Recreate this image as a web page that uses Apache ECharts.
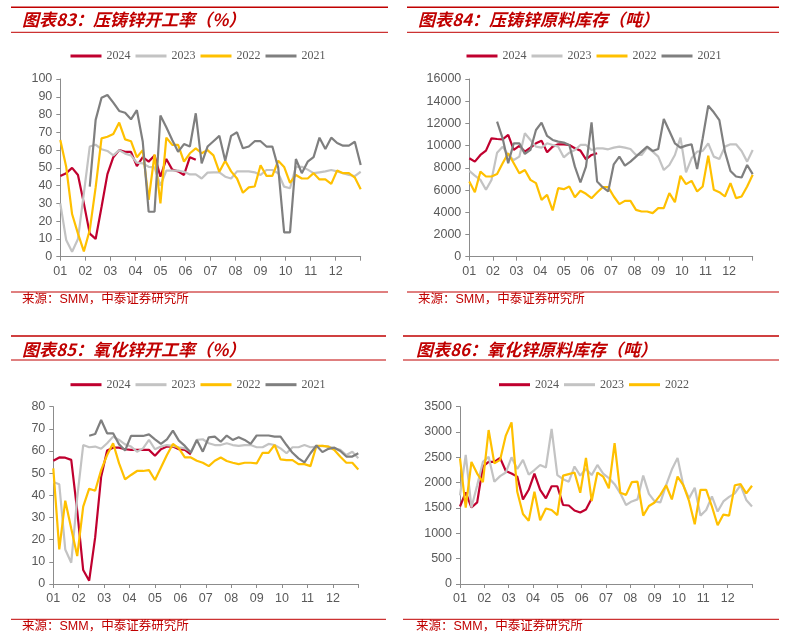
<!DOCTYPE html>
<html>
<head>
<meta charset="utf-8">
<script src="https://cdn.jsdelivr.net/npm/echarts@6/dist/echarts.min.js"></script>
<style>
body{margin:0;background:#fff;}
#wrap{position:relative;width:792px;height:636px;}
.p{position:absolute;width:396px;height:318px;}
</style>
</head>
<body>
<div id="wrap">
<div class="p" id="c1" style="left:0;top:0"></div>
<div class="p" id="c2" style="left:396px;top:0"></div>
<div class="p" id="c3" style="left:0;top:318px"></div>
<div class="p" id="c4" style="left:396px;top:318px"></div>
</div>
<script>
// month tick labels and legend names
var monthLabels = ['01','02','03','04','05','06','07','08','09','10','11','12'];
var years = ['2024','2023','2022','2021'];
var yearColors = ['#C0002F','#C3C3C3','#FFC000','#7F7F7F'];

// 压铸锌开工率 (%), weekly
var die2024 = [45.4,47,50,46,30,13,10,28,46.5,56,60,59,59,51,56,53.5,57,45,55,49,48,46,56,54.5];
var die2023 = [30,9.4,2.8,10,35.6,62,63,60.5,59.5,57,60,58,57,52.9,52.5,50.6,50.3,40,48.4,48.4,48.4,47.8,46.3,46.3,44,47.3,47.5,47.5,45,44,48,48,48,47.5,46,48.8,48.8,47,39.4,38.5,50.6,50.6,49,47,47.5,48,48.8,48,47,46,45.4,47.8];
var die2022 = [65.7,50.6,24,13,3,15,39,66.6,67.5,69,75.5,66,65,56,60,32,57.6,30,67,62.9,62.9,53.5,58.2,61,58.2,60,57,47.8,54,48,44,36,39,39.5,51.5,45.5,45.5,54,50.5,41.5,46,44,44,47,43.5,43.5,41,48.5,47,47,44.5,38];
var die2021 = [null,null,null,null,null,39.4,77,89.5,91,86.7,82,81,77.3,82.5,64.7,25.3,25.3,79.4,72.8,65.7,59,63.4,62,80.7,52.5,62,65,68,54,68,70,61,62,65,65,62,62,50,13.7,13.7,55,47,53.5,56,67,60.6,67,64,62.5,62.5,64.7,51.6];

// 压铸锌原料库存 (吨)
var dieStock2024 = [8860,8560,9160,9550,10660,10600,10570,10960,9610,9970,9460,9820,10210,10450,9400,9910,10120,10120,10060,9760,9550,8770,9160,9310];
var dieStock2023 = [7720,7300,6920,6020,6920,9370,9910,9160,8710,9010,11110,10510,9910,9820,10210,10060,9910,8950,9370,9610,10060,10060,9610,9760,9760,9670,9820,9910,9820,9700,9160,9160,9820,9460,9010,7810,8260,9160,10720,7600,8860,9460,9520,10210,9010,8800,9910,10120,10120,9520,8560,9610];
var dieStock2022 = [6770,5810,7660,7220,7220,7450,8410,9310,8410,7510,7810,6920,6620,5120,5570,4160,6170,6080,6320,5360,5930,5660,5270,5780,6260,6260,5420,4730,5030,5030,4220,4070,4070,3920,4370,4370,5720,4910,7280,6530,6830,5870,6320,9100,6020,5810,5420,6620,5270,5420,6320,7370];
var dieStock2021 = [null,null,null,null,null,12160,10660,8410,10210,10210,9250,9610,11410,12070,10870,10510,10360,10270,10060,8110,6680,8110,12100,6770,6260,5870,8320,9010,8200,8560,9010,9460,9910,9520,9700,12400,11320,10210,9820,10000,10120,7900,10660,13590,13000,12300,9460,7720,7220,7130,8260,7430];

// 氧化锌开工率 (%)
var oxide2024 = [55.6,57.1,57,56,33,6.3,1.5,21,48.4,60.2,61.5,61.5,60.8,60.5,60.5,60.5,60.5,57.9,60.8,62,62,60.8,60.5,58.5];
var oxide2023 = [46,45,15.6,9.6,39,62.7,61.7,62,61,63.5,66.5,65,63,62,59.7,61.2,65,60.8,62,62.7,62.3,61.7,61.2,59.7,65,65.3,63.5,62.7,62.7,63.5,62.7,62.3,62.7,62.7,61.7,61.7,63.2,62.7,61.2,59,61.7,61.7,62.7,61.7,62,62.3,62,61.2,60.5,58.2,59.7,56.7];
var oxide2022 = [52.2,15.6,37.6,25,12.6,34.9,43,42.1,51.4,58.2,63.5,54.4,47.2,49.2,51,51,51.4,46.9,52.6,58.2,63.2,61.2,57.1,57.1,55.6,54.7,53.2,55.6,57.1,55.5,54.7,54.1,54.7,54.7,54.4,59.2,59.2,62.7,56.2,55.9,55.9,54.1,54.1,53.2,62.3,62.3,62,60.5,57.4,54.7,54.7,51.7];
var oxide2021 = [null,null,null,null,null,null,66.9,67.7,74,68,68,63,60.2,66.8,66.8,66.8,67.5,65.3,63.2,65.3,69.2,64.7,62.3,59.2,65,59.7,66.2,66.5,64.2,67,65,66.2,65,63.2,67,67,67,66.5,66.5,62.7,59.2,56.7,54.9,59,62.5,59.5,61,61.5,60,57.5,57.5,59];

// 氧化锌原料库存 (吨)
var oxideStock2024 = [1530,1810,1510,1610,2320,2410,2410,2490,2230,2180,2120,1670,1860,2180,1860,1690,1930,1930,1560,1550,1450,1410,1470,1690];
var oxideStock2023 = [1750,2550,1510,1950,2410,2510,2020,2130,2200,2500,2270,2450,2160,2250,2350,2300,3060,2150,2070,2020,2320,2140,2270,2150,2350,2180,2090,1970,1790,1560,1630,1670,2140,1780,1630,1610,1950,2260,2490,1950,1690,1900,1350,1460,1730,1430,1630,1720,1790,1950,1660,1530];
var oxideStock2022 = [2480,1510,2410,2180,2010,3040,2380,2450,2930,3190,1820,1380,1250,1820,1260,1490,1460,1360,2140,2170,2200,1800,2490,1640,2200,2120,1890,2780,1800,1760,2010,2020,1350,1540,1610,1760,1950,1670,2120,1950,1640,1180,1860,1860,1530,1160,1370,1350,1950,1970,1790,1940];

var RED = '#C00000';
var WEEKS = 52;

function pts(arr) {
	var out = [];
	arr.forEach(function(v, i) {
		if (v !== null) out.push([i * 12 / (WEEKS - 1), v]);
	});
	return out;
}

function panel(id, cfg) {
	var chart = echarts.init(document.getElementById(id));
	var names = years.slice(0, cfg.data.length);
	var series = cfg.data.map(function(arr, k) {
		return {
			name: names[k],
			type: 'line',
			data: pts(arr),
			showSymbol: false,
			symbol: 'none',
			lineStyle: { width: 2.2, color: yearColors[k] },
			itemStyle: { color: yearColors[k] },
			z: 2 + k
		};
	});
	var option = {
		animation: false,
		graphic: [
			{ type: 'line', shape: { x1: cfg.rx1, y1: cfg.rTop, x2: cfg.rx2, y2: cfg.rTop }, style: { stroke: RED, lineWidth: 1.6 } },
			{ type: 'line', shape: { x1: cfg.rx1, y1: cfg.rTitle, x2: cfg.rx2, y2: cfg.rTitle }, style: { stroke: RED, lineWidth: 1 } },
			{ type: 'line', shape: { x1: cfg.rx1, y1: cfg.rBottom, x2: cfg.rx2, y2: cfg.rBottom }, style: { stroke: RED, lineWidth: 1 } },
			{ type: 'text', x: cfg.tx, y: cfg.titleY, style: { text: cfg.title, fill: RED, font: 'italic bold 17px "Noto Sans CJK SC"', verticalAlign: 'middle' } },
			{ type: 'text', x: cfg.tx, y: cfg.srcY, style: { text: '来源：SMM，中泰证券研究所', fill: RED, font: '12.5px "Liberation Sans", "Noto Sans CJK SC"', verticalAlign: 'middle' } }
		],
		legend: {
			data: names,
			top: cfg.legendY - 7,
			left: 'center',
			icon: 'rect',
			itemWidth: 31,
			itemHeight: 3,
			itemGap: 5,
			textStyle: { color: '#595959', fontSize: 12, fontFamily: 'Liberation Serif' }
		},
		grid: cfg.grid,
		xAxis: {
			type: 'value',
			min: 0,
			max: 12,
			interval: 1,
			axisLine: { lineStyle: { color: '#8C8C8C' } },
			axisTick: { show: true, length: 4, lineStyle: { color: '#8C8C8C' } },
			axisLabel: {
				color: '#595959', fontSize: 12.5, fontFamily: 'Liberation Sans', margin: 8,
				formatter: function(v) { return monthLabels[v] || ''; }
			},
			splitLine: { show: false }
		},
		yAxis: {
			type: 'value',
			min: 0,
			max: cfg.yMax,
			interval: cfg.yInt,
			axisLine: { show: true, lineStyle: { color: '#8C8C8C' } },
			axisTick: { show: true, length: 4, lineStyle: { color: '#8C8C8C' } },
			axisLabel: {
				color: '#595959', fontSize: 12.5, fontFamily: 'Liberation Sans', margin: 8,
				formatter: function(v) { return String(v); }
			},
			splitLine: { show: false }
		},
		series: series
	};
	chart.setOption(option, true);
}

panel('c1', {
	title: '图表83：压铸锌开工率（%）',
	data: [die2024, die2023, die2022, die2021],
	yMax: 100, yInt: 10,
	grid: { left: 60.3, right: 35.3, top: 79, bottom: 61.3 },
	rx1: 11, rx2: 388, rTop: 7.3, rTitle: 32.3, rBottom: 292,
	tx: 22, titleY: 19.5, srcY: 300, legendY: 52
});
panel('c2', {
	title: '图表84：压铸锌原料库存（吨）',
	data: [dieStock2024, dieStock2023, dieStock2022, dieStock2021],
	yMax: 16000, yInt: 2000,
	grid: { left: 73.3, right: 39.3, top: 79, bottom: 61.3 },
	rx1: 11, rx2: 383, rTop: 7.3, rTitle: 32.3, rBottom: 292,
	tx: 22, titleY: 19.5, srcY: 300, legendY: 52
});
panel('c3', {
	title: '图表85：氧化锌开工率（%）',
	data: [oxide2024, oxide2023, oxide2022, oxide2021],
	yMax: 80, yInt: 10,
	grid: { left: 53.3, right: 37.7, top: 88.7, bottom: 52 },
	rx1: 11, rx2: 386, rTop: 18, rTitle: 42, rBottom: 301.3,
	tx: 22, titleY: 31.3, srcY: 309, legendY: 62.7
});
panel('c4', {
	title: '图表86：氧化锌原料库存（吨）',
	data: [oxideStock2024, oxideStock2023, oxideStock2022],
	yMax: 3500, yInt: 500,
	grid: { left: 64, right: 40, top: 88.7, bottom: 52 },
	rx1: 7, rx2: 383, rTop: 18, rTitle: 42, rBottom: 301.3,
	tx: 20, titleY: 31.3, srcY: 309, legendY: 62.7
});
</script>
</body>
</html>
